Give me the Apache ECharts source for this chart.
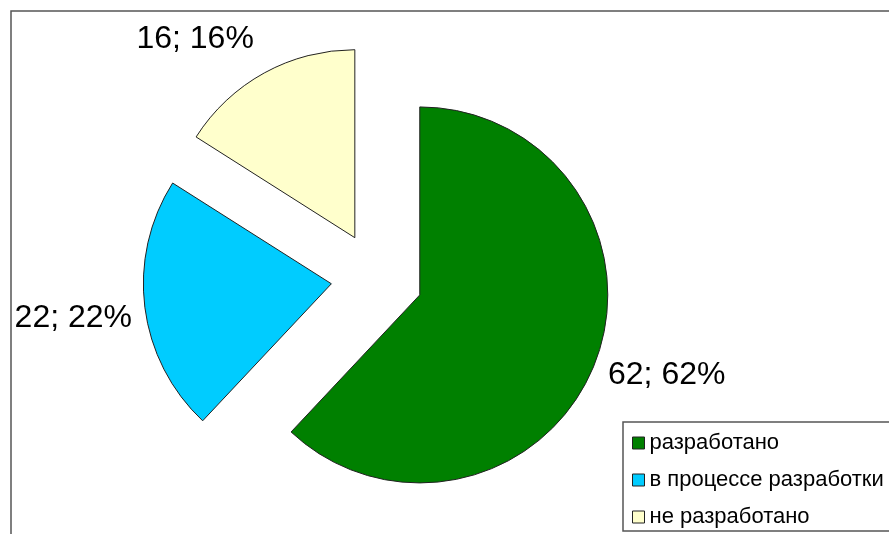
<!DOCTYPE html>
<html>
<head>
<meta charset="utf-8">
<script src="https://cdn.jsdelivr.net/npm/echarts@6/dist/echarts.min.js"></script>
<style>
html,body{margin:0;padding:0;background:#fff;}
#chart{width:889px;height:534px;}
</style>
</head>
<body>
<div id="chart"></div>
<script>
const categories = ['разработано', 'в процессе разработки', 'не разработано'];
const values = [62, 22, 16];
const colors = ['#008000', '#00CCFF', '#FFFFCC'];

// label placement tweaks (style, not data)
const labelLineLengths = [22, 22, 32];
const labelShift = [[-7, 3], [9, 8], [5, -6]];

const total = values.reduce((a, b) => a + b, 0);
const chart = echarts.init(document.getElementById('chart'), null, {renderer: 'canvas'});
const FONT = '"Liberation Sans", Arial, sans-serif';

chart.setOption({
  animation: false,
  backgroundColor: '#ffffff',
  graphic: [{
    type: 'rect',
    shape: {x: 11, y: 11, width: 1000, height: 1000},
    style: {fill: 'none', stroke: '#555555', lineWidth: 1.5},
    silent: true,
    z: 0
  }],
  legend: {
    orient: 'vertical',
    left: 623,
    top: 422,
    height: 300,
    padding: [10, 20, 3, 9],
    itemGap: 15,
    itemWidth: 12,
    itemHeight: 12,
    icon: 'rect',
    borderColor: '#555555',
    borderWidth: 1.5,
    backgroundColor: '#ffffff',
    selectedMode: false,
    itemStyle: {borderColor: '#222', borderWidth: 1},
    textStyle: {fontFamily: FONT, fontSize: 22, color: '#000'},
    data: categories
  },
  series: [{
    type: 'pie',
    center: [377, 278],
    radius: 188,
    startAngle: 90,
    clockwise: true,
    avoidLabelOverlap: false,
    selectedMode: 'multiple',
    selectedOffset: 46,
    emphasis: {disabled: true},
    itemStyle: {borderColor: '#222', borderWidth: 1},
    label: {
      show: true,
      position: 'outside',
      distanceToLabelLine: 0,
      fontFamily: FONT,
      fontSize: 32,
      color: '#000',
      formatter: p => p.value + '; ' + Math.round(p.value / total * 100) + '%'
    },
    labelLine: {show: false, length2: 0},
    labelLayout: p => ({dx: labelShift[p.dataIndex][0], dy: labelShift[p.dataIndex][1]}),
    data: categories.map((name, i) => ({
      name: name,
      value: values[i],
      selected: true,
      itemStyle: {color: colors[i]},
      labelLine: {show: false, length: labelLineLengths[i], length2: 0}
    }))
  }]
});
</script>
</body>
</html>
